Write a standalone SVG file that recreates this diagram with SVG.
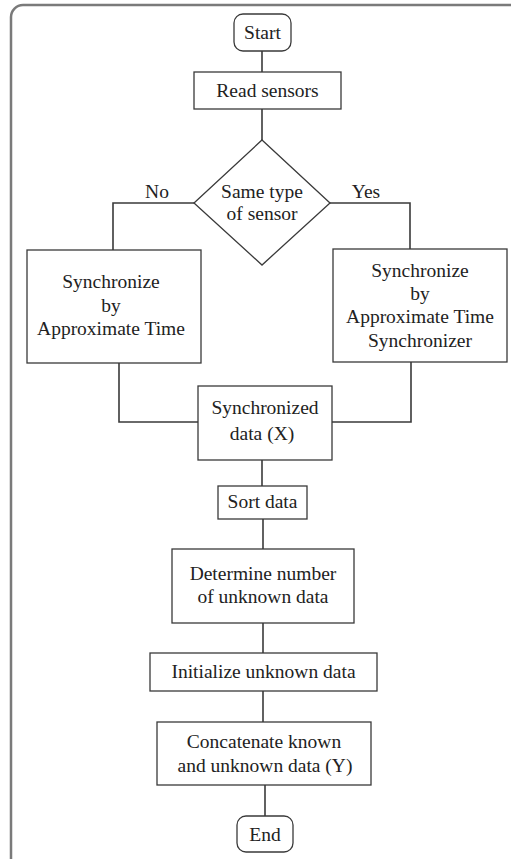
<svg xmlns="http://www.w3.org/2000/svg" width="511" height="859" viewBox="0 0 511 859">
<style>
.box{fill:#fff;stroke:#3a3a3a;stroke-width:1.3}
.ln{fill:none;stroke:#3a3a3a;stroke-width:1.6}
text{font-family:'Liberation Serif','Times New Roman',Times,'DejaVu Serif',serif;font-size:19.5px;fill:#222;text-anchor:middle}
</style>
<rect x="0" y="0" width="511" height="859" fill="#fff"/>
<rect x="11" y="5" width="520" height="870" rx="12" fill="none" stroke="#7a7a7a" stroke-width="2.5"/>
<g id="connectors">
<path class="ln" d="M262,51 V72"/>
<path class="ln" d="M262,109 V140"/>
<path class="ln" d="M194,203 H113 V250"/>
<path class="ln" d="M330,203 H410 V249"/>
<path class="ln" d="M119,363 V422 H198"/>
<path class="ln" d="M411,362 V422 H332"/>
<path class="ln" d="M262,460 V486"/>
<path class="ln" d="M263,519 V549"/>
<path class="ln" d="M263,623 V653"/>
<path class="ln" d="M263,691 V722"/>
<path class="ln" d="M265,785 V816"/>
</g>
<g id="start"><rect class="box" x="234" y="14" width="57" height="37" rx="9"/><text x="262.5" y="39" font-family="Liberation Serif, serif">Start</text></g>
<g id="read"><rect class="box" x="194" y="72" width="147" height="37"/><text x="267.5" y="97">Read sensors</text></g>
<g id="decision"><polygon class="box" points="262,140 330,203 262,265 194,203"/><text x="262" y="198">Same type</text><text x="262" y="220">of sensor</text></g>
<g id="labels"><text x="157" y="198">No</text><text x="366" y="198">Yes</text></g>
<g id="syncLeft"><rect class="box" x="27" y="250" width="174" height="113"/><text x="111" y="288">Synchronize</text><text x="111" y="312">by</text><text x="111" y="335">Approximate Time</text></g>
<g id="syncRight"><rect class="box" x="333" y="249" width="174" height="113"/><text x="420" y="277">Synchronize</text><text x="420" y="300">by</text><text x="420" y="323">Approximate Time</text><text x="420" y="347">Synchronizer</text></g>
<g id="synced"><rect class="box" x="198" y="386" width="134" height="74"/><text x="265" y="414">Synchronized</text><text x="262" y="440">data (X)</text></g>
<g id="sort"><rect class="box" x="218" y="486" width="89" height="33"/><text x="262.5" y="508">Sort data</text></g>
<g id="determine"><rect class="box" x="172" y="549" width="182" height="74"/><text x="263" y="580">Determine number</text><text x="263" y="603">of unknown data</text></g>
<g id="init"><rect class="box" x="150" y="653" width="227" height="38"/><text x="263.5" y="678">Initialize unknown data</text></g>
<g id="concat"><rect class="box" x="157" y="722" width="214" height="63"/><text x="264" y="748">Concatenate known</text><text x="265" y="772">and unknown data (Y)</text></g>
<g id="end"><rect class="box" x="237" y="816" width="56" height="36" rx="9"/><text x="265" y="841">End</text></g>
</svg>
